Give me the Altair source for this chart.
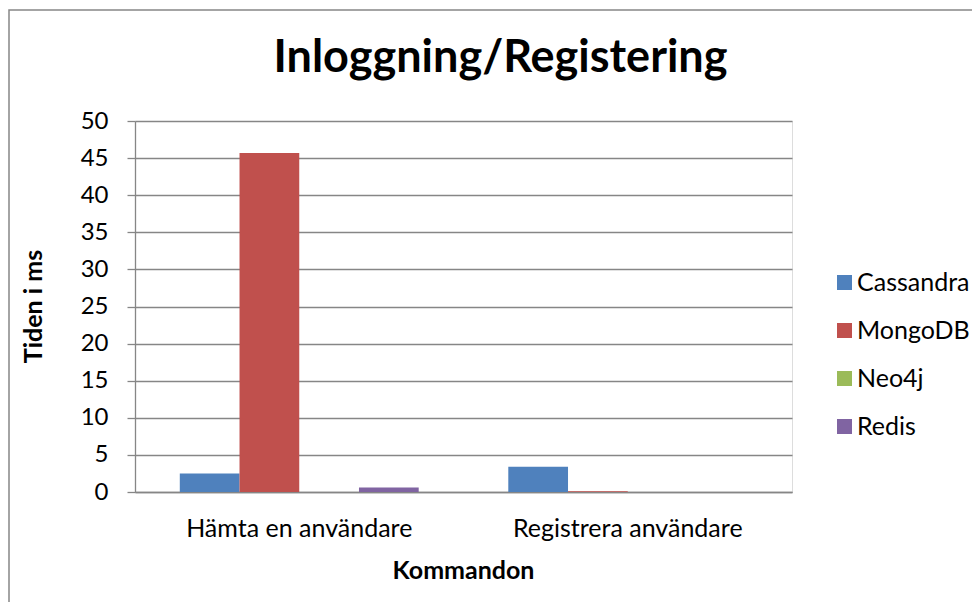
import altair as alt
import pandas as pd

categories = ["Hämta en användare", "Registrera användare"]
series = ["Cassandra", "MongoDB", "Neo4j", "Redis"]
colors = ["#4F81BD", "#C0504D", "#9BBB59", "#8064A2"]
cassandra = [2.5, 3.4]
mongodb = [45.7, 0.1]
neo4j = [0.0, 0.0]
redis = [0.6, 0.0]

rows = []
for s, vals in zip(series, [cassandra, mongodb, neo4j, redis]):
    for c, v in zip(categories, vals):
        rows.append({"Kommando": c, "Databas": s, "Tid": v})
df = pd.DataFrame(rows)

FONT = "Lato"
GRID = "#868686"
FS = 25

bars = alt.Chart(df).mark_bar().encode(
    x=alt.X("Kommando:N", sort=categories,
            scale=alt.Scale(paddingInner=0, paddingOuter=0),
            axis=alt.Axis(title="Kommandon", labelAngle=0, ticks=False,
                          labelPadding=36, labelBaseline="middle", labelLimit=0,
                          labelFont=FONT, labelFontSize=FS, labelColor="#000000",
                          titleFont=FONT, titleFontSize=FS, titleFontWeight="bold",
                          titleColor="#000000", titleX=328, titleY=78,
                          titleBaseline="middle", titleAlign="center",
                          domainColor=GRID, domainWidth=1.3, grid=False)),
    xOffset=alt.XOffset("Databas:N", sort=series,
                        scale=alt.Scale(paddingInner=0, paddingOuter=0.75)),
    y=alt.Y("Tid:Q", scale=alt.Scale(domain=[0, 50], nice=False),
            axis=alt.Axis(title="Tiden i ms", values=list(range(0, 51, 5)),
                          tickCount=11, tickSize=8, tickColor=GRID, tickWidth=1.3,
                          labelPadding=19, labelFont=FONT, labelFontSize=FS - 1,
                          labelColor="#000000", gridColor=GRID, gridWidth=1.3,
                          domainColor=GRID, domainWidth=1.3,
                          titleFont=FONT, titleFontSize=FS, titleFontWeight="bold",
                          titleColor="#000000", titleAngle=270, titleX=-102,
                          titleY=185, titleBaseline="middle", titleAlign="center")),
    color=alt.Color("Databas:N", sort=series,
                    scale=alt.Scale(domain=series, range=colors),
                    legend=alt.Legend(title=None, orient="none", legendX=697,
                                      legendY=149, symbolType="square",
                                      symbolSize=225, symbolStrokeWidth=0,
                                      labelFont=FONT, labelFontSize=FS,
                                      labelColor="#000000", labelOffset=0,
                                      rowPadding=22, padding=0)),
)

border = alt.Chart(pd.DataFrame({"a": [0]})).mark_rect(
    fill=None, stroke="#868686", strokeWidth=1.5
).encode(x=alt.value(-126), x2=alt.value(900), y=alt.value(-111), y2=alt.value(700))

chart = alt.layer(border, bars).properties(
    width=657, height=371,
    autosize=alt.AutoSizeParams(type="none"),
    padding={"left": 127, "top": 113, "right": 180, "bottom": 110},
    title=alt.Title("Inloggning/Registering", font=FONT, fontSize=45,
                    fontWeight="bold", color="#000000", anchor="middle",
                    dx=37, offset=-108, baseline="alphabetic"),
).configure_view(stroke=None).configure(background="white")

chart.save("out.html", embed_options={"renderer": "svg", "actions": False})
